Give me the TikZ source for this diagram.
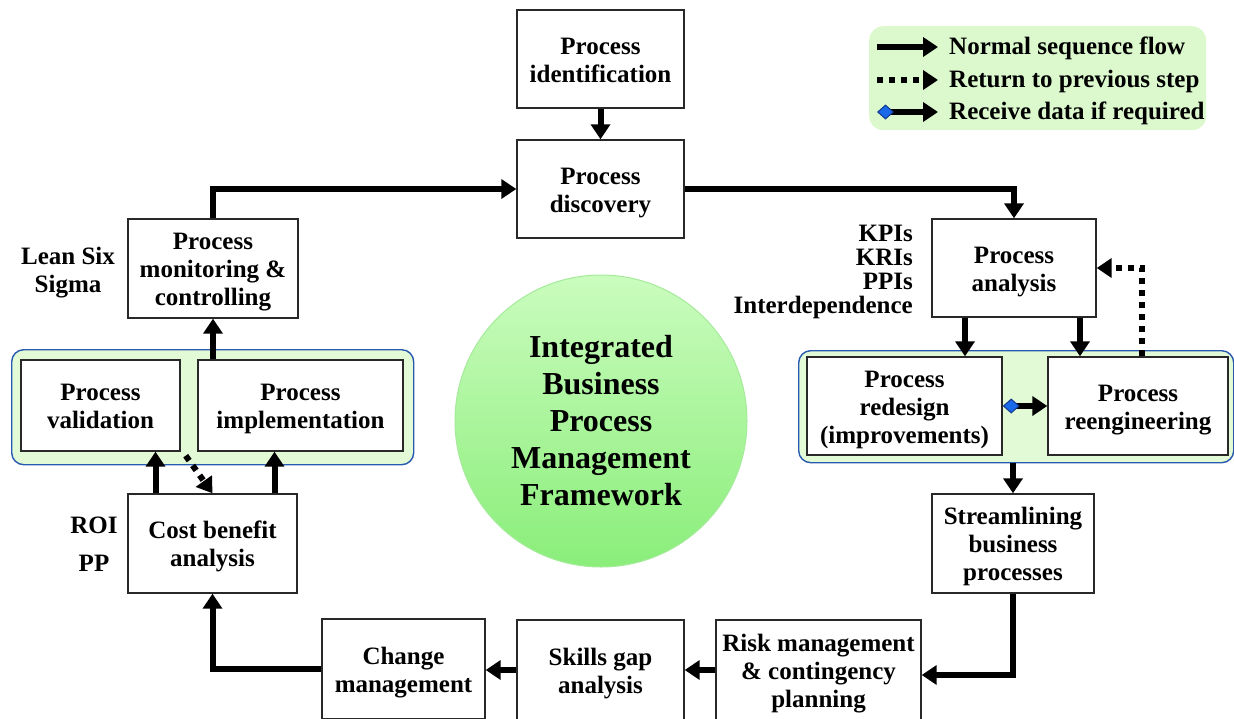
\documentclass[tikz,border=0pt]{standalone}
\usepackage{fontspec}
\setmainfont{Liberation Serif}
\usetikzlibrary{arrows.meta,calc}
\definecolor{grpfill}{RGB}{226,250,214}
\definecolor{grpline}{RGB}{40,90,175}
\definecolor{legfill}{RGB}{220,249,206}
\definecolor{circtop}{RGB}{202,252,190}
\definecolor{circbot}{RGB}{138,238,122}
\definecolor{circline}{RGB}{165,235,155}
\definecolor{dmfill}{RGB}{25,105,235}
\definecolor{dmline}{RGB}{20,55,140}
\definecolor{boxline}{RGB}{40,40,40}
% struts that give every box the same first-line height and last-line depth
\newcommand{\boxtop}{\rule{0pt}{25pt}}
\newcommand{\boxbottom}{\rule[-7pt]{0pt}{7pt}}

\begin{document}
\begin{tikzpicture}[x=1pt,y=-1pt,
  font=\bfseries\fontsize{25}{28}\selectfont,
  blk/.style={draw=boxline,line width=1.4pt,fill=white,align=center,inner sep=0pt,
    execute at end node={\boxbottom}},
  grp/.style={draw=grpline,line width=1.4pt,fill=grpfill,rounded corners=12pt,anchor=north west},
  flow/.style={line width=6pt,-{Triangle[length=15pt,width=19pt]}},
  back/.style={flow,dash pattern=on 6pt off 6pt},
  data/.style={line width=6pt,{Diamond[length=17pt,width=15pt,fill=dmfill,color=dmline,line width=1pt]}-{Triangle[length=15pt,width=19pt]}},
  side/.style={inner sep=0pt,align=center},
  legtext/.style={anchor=west,inner sep=0pt,font=\bfseries\fontsize{25}{26}\selectfont},
]
\useasboundingbox (0,0) rectangle (1234,718);

% grouping panels
\node[grp, minimum width=402pt, minimum height=115pt] (grpL) at (11,349) {};
\node[grp, minimum width=435pt, minimum height=112pt] (grpR) at (798,350) {};

% central circle
\node[circle, minimum size=292pt, top color=circtop, bottom color=circbot,
      draw=circline, line width=1pt, align=center,
      font=\bfseries\fontsize{32}{37}\selectfont] (core) at (601,421)
  {Integrated\\Business\\Process\\Management\\Framework};

% process steps
\node[blk, minimum width=167pt, minimum height=98pt] (ident) at (600.5,59) {\boxtop Process\\identification};
\node[blk, minimum width=167pt, minimum height=98pt] (disc) at (600.5,189) {\boxtop Process\\discovery};
\node[blk, minimum width=164pt, minimum height=98pt] (anal) at (1014,268) {\boxtop Process\\analysis};
\node[blk, minimum width=195pt, minimum height=98pt] (redes) at (904.5,406) {\boxtop Process\\redesign\\(improvements)};
\node[blk, minimum width=180pt, minimum height=98pt] (reeng) at (1138,406) {\boxtop Process\\reengineering};
\node[blk, minimum width=162pt, minimum height=99pt] (stream) at (1013,543.5) {\boxtop Streamlining\\business\\processes};
\node[blk, minimum width=205pt, minimum height=100pt] (risk) at (818.5,670) {\boxtop Risk management\\\& contingency\\planning};
\node[blk, minimum width=167pt, minimum height=100pt] (skills) at (600.5,670) {\boxtop Skills gap\\analysis};
\node[blk, minimum width=163pt, minimum height=100pt] (change) at (403.5,669) {\boxtop Change\\management};
\node[blk, minimum width=169pt, minimum height=99pt] (cost) at (212.5,543.5) {\boxtop Cost benefit\\analysis};
\node[blk, minimum width=159pt, minimum height=91pt] (valid) at (100.5,405.5) {\boxtop Process\\validation};
\node[blk, minimum width=205pt, minimum height=91pt] (impl) at (300.5,405.5) {\boxtop Process\\implementation};
\node[blk, minimum width=170pt, minimum height=99pt] (monit) at (213,268.5) {\boxtop Process\\monitoring \&\\controlling};

% side notes
\node[side] (lss) at (68,273) {Lean Six\\Sigma};
\node[side] (roi) at (94,525) {ROI};
\node[side] (pp) at (94,563) {PP};
\node[side, align=right, anchor=east, font=\bfseries\fontsize{25}{24}\selectfont] (kpi) at (913,272)
  {KPIs\\KRIs\\PPIs\\Interdependence};

% connectors
\draw[flow] (ident) -- (disc);
\draw[flow] (disc.east) -| (anal.north);
\draw[flow] ([xshift=-49pt]anal.south) -- ([xshift=-49pt]anal.south |- redes.north);
\draw[flow] ([xshift=66pt]anal.south) -- ([xshift=66pt]anal.south |- reeng.north);
\draw[back] ([xshift=4pt]reeng.north) |- (anal.east);
\draw[data] (redes.east) -- (reeng.west);
\draw[flow] (stream.north |- grpR.south) -- (stream.north);
\draw[flow] (stream.south) |- ([yshift=-5pt]risk.east);
\draw[flow] (risk.west) -- (skills.east);
\draw[flow] (skills.west) -- (change.east |- skills.west);
\draw[flow] (change.west) -| (cost.south);
\draw[flow] ([xshift=-57pt]cost.north) -- ([xshift=-57pt]cost.north |- valid.south);
\draw[flow] ([xshift=62pt]cost.north) -- ([xshift=62pt]cost.north |- impl.south);
\draw[back] ([xshift=5pt,yshift=-4pt]valid.south east) -- (cost.north);
\draw[flow] (monit.south |- impl.north) -- (monit.south);
\draw[flow] (monit.north) |- (disc.west);

% legend
\node[fill=legfill, rounded corners=14pt, minimum width=337pt, minimum height=104pt, anchor=north west] (legend) at (869,26) {};
\coordinate (la1) at (877,47);  \coordinate (lb1) at (938,47);
\coordinate (la2) at (877,80);  \coordinate (lb2) at (938,80);
\coordinate (la3) at (877,112); \coordinate (lb3) at (938,112);
\draw[flow] (la1) -- (lb1);
\draw[back] (la2) -- (lb2);
\draw[data] (la3) -- (lb3);
\node[legtext] (lt1) at (949,48) {Normal sequence flow};
\node[legtext] (lt2) at (949,81) {Return to previous step};
\node[legtext] (lt3) at (949,113) {Receive data if required};
\end{tikzpicture}
\end{document}
